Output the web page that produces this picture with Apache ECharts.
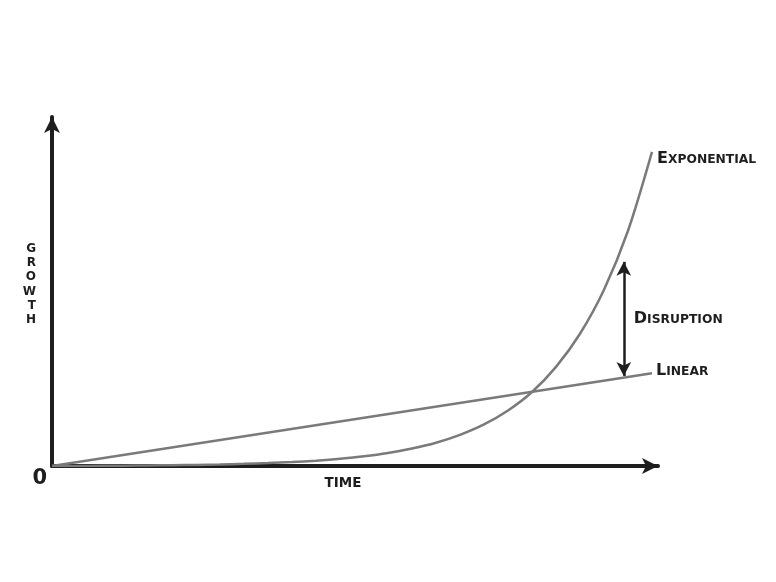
<!DOCTYPE html>
<html>
<head>
<meta charset="utf-8">
<script src="https://cdn.jsdelivr.net/npm/echarts@6/dist/echarts.min.js"></script>
<style>
  html, body { margin: 0; padding: 0; background: #fff; }
  #chart { width: 776px; height: 582px; }
</style>
</head>
<body>
<div id="chart"></div>
<script>
// time values (0..100) and growth readings (0..100)
const expTime = [0, 4, 8, 12, 16, 20, 24, 28, 32, 36, 40, 44, 48, 52, 56, 60, 64, 68, 72, 76, 80, 84, 88, 92, 96, 100]
const expGrowth = [0, 0.02, 0.05, 0.09, 0.15, 0.22, 0.31, 0.44, 0.61, 0.83, 1.13, 1.53, 2.06, 2.77, 3.72, 5, 6.67, 8.92, 11.9, 15.9, 21.2, 28.4, 37.9, 50.5, 67.4, 90]
const linTime = [0, 100]
const linGrowth = [0, 26.6]
// disruption gap arrow: x position, low and high end
const gapTime = 95.3
const gapRange = [25.8, 58.5]

const chart = echarts.init(document.getElementById('chart'), null, { renderer: 'canvas' })

const font = '"DejaVu Sans", "Open Sans", sans-serif'
const ink = '#1e1e1e'
const curveColor = '#7a7a7a'

const capsRich = {
  big: { fontFamily: font, fontWeight: 'bold', fontSize: 16, color: ink, verticalAlign: 'bottom' },
  small: { fontFamily: font, fontWeight: 'bold', fontSize: 12.3, color: ink, verticalAlign: 'bottom', padding: [0, 0, 1, 0] }
}
const smallCaps = (word) => '{big|' + word[0] + '}{small|' + word.slice(1) + '}'

const option = {
  animation: false,
  backgroundColor: '#fff',
  grid: { left: 52, right: 776 - 658, top: 117, bottom: 582 - 466, containLabel: false },
  xAxis: {
    type: 'value',
    min: 0,
    max: 101,
    name: 'TIME',
    nameLocation: 'middle',
    nameGap: 10,
    nameMoveOverlap: false,
    nameTextStyle: { fontFamily: font, fontWeight: 'bold', fontSize: 13.5, color: ink, padding: [0, 24, 0, 0] },
    axisLine: { show: true, symbol: ['none', 'arrow'], symbolSize: [12, 16], lineStyle: { color: ink, width: 4 } },
    axisTick: { show: false },
    splitLine: { show: false },
    axisLabel: {
      formatter: (v) => (v === 0 ? '0' : ''),
      fontFamily: font, fontWeight: 'bold', fontSize: 21, color: ink,
      align: 'right', margin: 2, padding: [0, 5, 0, 0]
    }
  },
  yAxis: {
    type: 'value',
    min: 0,
    max: 100,
    name: 'G\nR\nO\nW\nT\nH\n',
    nameLocation: 'middle',
    nameRotate: 0,
    nameGap: 16,
    nameTextStyle: { fontFamily: font, fontWeight: 'bold', fontSize: 12, lineHeight: 14.3, color: ink },
    axisLine: { show: true, symbol: ['none', 'arrow'], symbolSize: [12, 16], lineStyle: { color: ink, width: 4 } },
    axisTick: { show: false },
    splitLine: { show: false },
    axisLabel: { show: false }
  },
  series: [
    {
      name: 'Linear',
      type: 'line',
      data: linTime.map((t, i) => [t, linGrowth[i]]),
      showSymbol: false,
      lineStyle: { color: curveColor, width: 2.5 },
      endLabel: {
        show: true,
        color: ink,
        formatter: () => smallCaps('LINEAR'),
        rich: capsRich,
        distance: 4,
        offset: [0, -2]
      },
      z: 3
    },
    {
      name: 'Exponential',
      type: 'line',
      smooth: 0.3,
      data: expTime.map((t, i) => [t, expGrowth[i]]),
      showSymbol: false,
      lineStyle: { color: curveColor, width: 2.5 },
      endLabel: {
        show: true,
        color: ink,
        formatter: () => smallCaps('EXPONENTIAL'),
        rich: capsRich,
        distance: 5,
        offset: [0, 7]
      },
      z: 3
    },
    {
      name: 'Disruption',
      type: 'line',
      data: gapRange.map((g) => [gapTime, g]),
      showSymbol: false,
      lineStyle: { width: 0 },
      markLine: {
        silent: true,
        symbol: ['arrow', 'arrow'],
        symbolSize: [11, 14],
        label: { show: false },
        lineStyle: { color: ink, width: 2.5, type: 'solid' },
        data: [[{ coord: [gapTime, gapRange[0]] }, { coord: [gapTime, gapRange[1]] }]]
      },
      z: 4
    },
    {
      name: 'DisruptionLabel',
      type: 'scatter',
      data: [[gapTime, (gapRange[0] + gapRange[1]) / 2]],
      symbolSize: 0,
      itemStyle: { color: ink, opacity: 1 },
      label: {
        show: true,
        position: 'right',
        distance: 10,
        color: ink,
        formatter: () => smallCaps('DISRUPTION'),
        rich: capsRich
      }
    }
  ]
}

chart.setOption(option)
</script>
</body>
</html>
